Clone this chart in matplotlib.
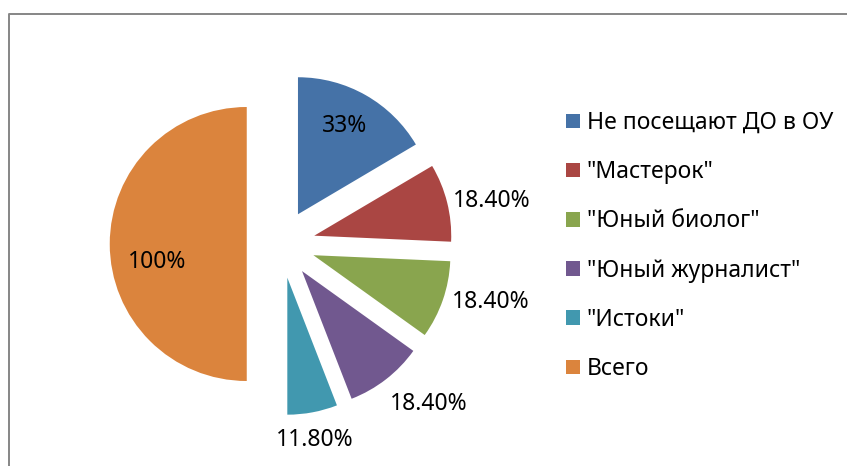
import numpy as np
import matplotlib
matplotlib.use("Agg")
import matplotlib.pyplot as plt
from matplotlib.lines import Line2D

plt.rcParams['font.family'] = ['Noto Sans', 'DejaVu Sans']
plt.rcParams['font.size'] = 16.5

categories = ['Не посещают ДО в ОУ', '"Мастерок"', '"Юный биолог"',
              '"Юный журналист"', '"Истоки"', 'Всего']
values = [33, 18.4, 18.4, 18.4, 11.8, 100]
value_labels = ['33%', '18.40%', '18.40%', '18.40%', '11.80%', '100%']
colors = ['#4572A7', '#AA4643', '#89A54E', '#71588F', '#4198AF', '#DB843D']

W, H = 847, 466
R = 137.0          # pie radius in px
CX, CY = 281, 244  # pie centre in px (from top)

fig = plt.figure(figsize=(W / 100, H / 100), dpi=100)
ax = fig.add_axes([0, 0, 1, 1])
ax.axis('off')

wedges, _ = ax.pie(values, colors=colors, startangle=90, counterclock=False,
                   radius=1, center=(0, 0), explode=[0.25] * len(values),
                   wedgeprops=dict(linewidth=0))
ax.set_xlim(-CX / R, (W - CX) / R)
ax.set_ylim(-(H - CY) / R, CY / R)
ax.set_aspect('auto')

# label distance (in radii) and angle tweak from the wedge bisector
dist = [0.73, 1.32, 1.34, 1.34, 1.2, 0.67]
turn = [1.7, -3, 4.2, 5.9, -0.9, 11.3]
for w, txt, d, t in zip(wedges, value_labels, dist, turn):
    th = np.deg2rad((w.theta1 + w.theta2) / 2 + t)
    x0, y0 = w.center
    ax.text(x0 + d * np.cos(th), y0 + d * np.sin(th), txt,
            ha='center', va='center', color='black')

fig.legend(wedges, categories, loc='center left',
           bbox_to_anchor=(566 / W, 1 - 246 / H), frameon=False,
           borderpad=0, borderaxespad=0, handlelength=0.6, handleheight=0.6,
           handletextpad=0.3, labelspacing=1.1)

# chart-area frame (runs off the right and bottom edges)
fig.add_artist(Line2D([9 / W, 9 / W, 1.01], [-0.01, 1 - 13.5 / H, 1 - 13.5 / H],
                      transform=fig.transFigure, color='#868686', linewidth=1.4))

fig.savefig('out.png', dpi=100)
